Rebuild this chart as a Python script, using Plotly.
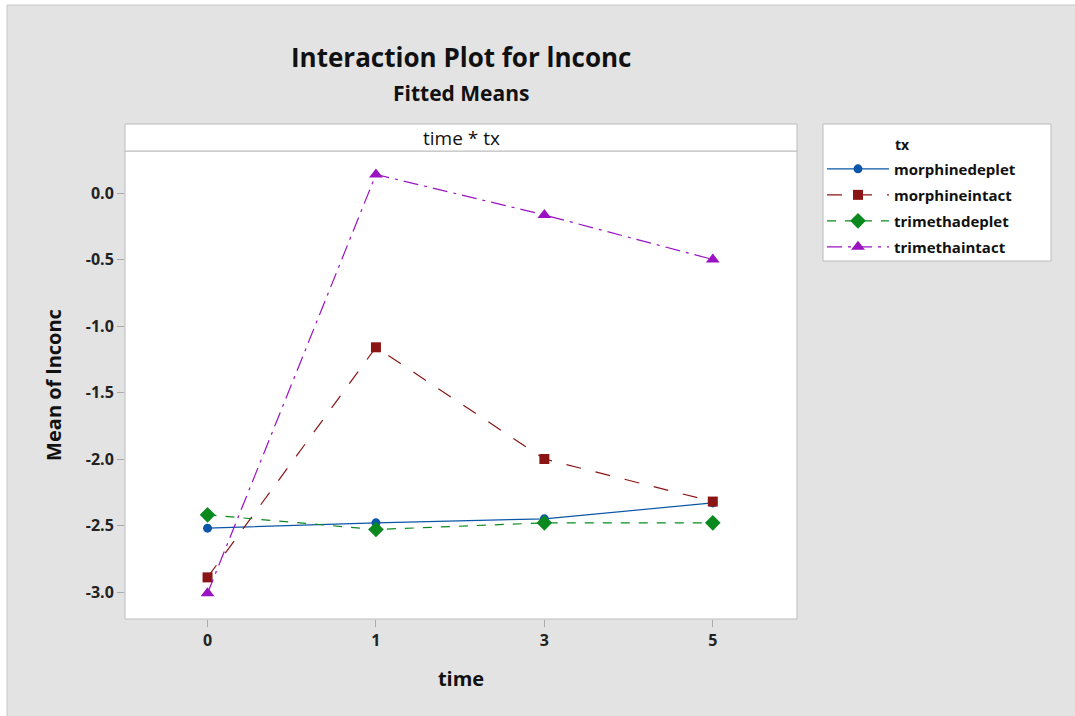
import plotly.graph_objects as go

time_labels = ["0", "1", "3", "5"]
groups = ["morphinedeplet", "morphineintact", "trimethadeplet", "trimethaintact"]
morphinedeplet = [-2.52, -2.48, -2.45, -2.33]
morphineintact = [-2.89, -1.16, -2.00, -2.32]
trimethadeplet = [-2.42, -2.53, -2.48, -2.48]
trimethaintact = [-3.01, 0.14, -0.165, -0.50]

series = [morphinedeplet, morphineintact, trimethadeplet, trimethaintact]
colors = ["#0b56a8", "#8b1414", "#0a8a1e", "#9a12c2"]
dashes = ["solid", "longdash", "dash", "longdashdot"]
symbols = ["circle", "square", "diamond", "triangle-up"]
msizes = [9, 10, 12, 12]

FONT = "Open Sans"
xpos = list(range(len(time_labels)))

fig = go.Figure()
for name, vals, c, d, s, ms in zip(groups, series, colors, dashes, symbols, msizes):
    fig.add_trace(go.Scatter(
        x=xpos, y=vals, name=name, mode="lines+markers", legendgroup=name,
        line=dict(color=c, width=1.2, dash=d),
        marker=dict(symbol=s, size=ms, color=c),
    ))

# pixel -> paper helpers
L, R, T, B = 125, 797, 151, 619
W, H = R - L, B - T
def px(x):
    return (x - L) / W
def py(y):
    return (B - y) / H

shapes = [
    # outer grey panel
    dict(type="rect", xref="paper", yref="paper", x0=px(7), x1=px(1080), y0=py(5), y1=py(720),
         fillcolor="#e3e3e3", line=dict(color="#c8c8c8", width=1), layer="below"),
    # plot area
    dict(type="rect", xref="paper", yref="paper", x0=0, x1=1, y0=0, y1=1,
         fillcolor="white", line=dict(color="#bcbcbc", width=1), layer="below"),
    # strip header
    dict(type="rect", xref="paper", yref="paper", x0=0, x1=1, y0=1, y1=py(124),
         fillcolor="white", line=dict(color="#bcbcbc", width=1)),
    # legend box
    dict(type="rect", xref="paper", yref="paper", x0=px(823), x1=px(1051), y0=py(261), y1=py(124),
         fillcolor="white", line=dict(color="#bcbcbc", width=1), layer="below"),
]

annotations = [
    dict(text="time * tx", xref="paper", yref="paper", x=0.5, y=(1 + py(124)) / 2,
         showarrow=False, font=dict(family=FONT, size=19, color="#111"), yanchor="middle"),
    dict(text="Interaction Plot for lnconc", xref="paper", yref="paper", x=0.5, y=py(57),
         showarrow=False, font=dict(family=FONT, size=26, color="#111", weight="bold"), yanchor="middle"),
    dict(text="Fitted Means", xref="paper", yref="paper", x=0.5, y=py(93),
         showarrow=False, font=dict(family=FONT, size=21, color="#111", weight="bold"), yanchor="middle"),
    dict(text="tx", xref="paper", yref="paper", x=px(893), y=py(144), xanchor="left", yanchor="middle",
         showarrow=False, font=dict(family=FONT, size=14, color="#111", weight="bold")),
]

fig.update_layout(
    width=1075, height=716,
    margin=dict(l=L, r=1075 - R, t=T, b=716 - B, pad=0),
    paper_bgcolor="white", plot_bgcolor="rgba(0,0,0,0)",
    font=dict(family=FONT, color="#111"),
    shapes=shapes, annotations=annotations,
    showlegend=True,
    legend=dict(
        x=px(822), y=py(124), xanchor="left", yanchor="top",
        bgcolor="rgba(0,0,0,0)", borderwidth=0,
        font=dict(family=FONT, size=15, color="#111", weight="bold"),
        title=dict(text="&nbsp;", font=dict(family=FONT, size=22)),
        tracegroupgap=3.5, itemwidth=62,
    ),
    xaxis=dict(
        range=[-0.49, 3.5], tickvals=xpos, ticktext=time_labels,
        showgrid=False, zeroline=False, showline=False,
        ticks="outside", ticklen=7, tickcolor="#aaaaaa",
        tickfont=dict(family=FONT, size=16, color="#222", weight="bold"),
        title=dict(text="time", font=dict(family=FONT, size=20, color="#111", weight="bold"), standoff=21),
    ),
    yaxis=dict(
        range=[-3.203, 0.316], tickvals=[0, -0.5, -1, -1.5, -2, -2.5, -3],
        ticktext=["0.0", "-0.5", "-1.0", "-1.5", "-2.0", "-2.5", "-3.0"],
        showgrid=False, zeroline=False, showline=False,
        ticks="outside", ticklen=7, tickcolor="#aaaaaa",
        tickfont=dict(family=FONT, size=16, color="#222", weight="bold"),
        title=dict(text="Mean of lnconc", font=dict(family=FONT, size=20, color="#111", weight="bold"), standoff=18),
    ),
)

fig.write_html("out.html")
